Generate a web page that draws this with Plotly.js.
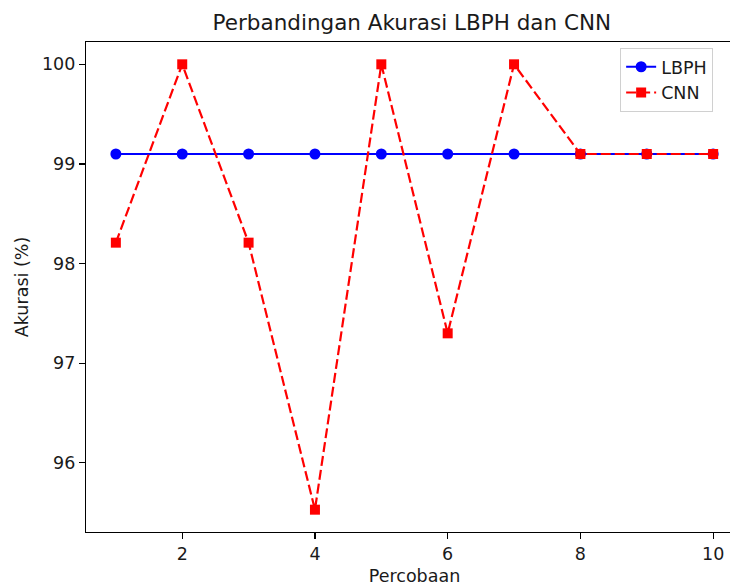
<!DOCTYPE html>
<html>
<head>
<meta charset="utf-8">
<script src="https://cdn.plot.ly/plotly-3.0.1.min.js"></script>
<style>html,body{margin:0;padding:0;overflow:hidden;background:#fff;}</style>
</head>
<body>
<div id="chart" style="width:745px;height:588px;"></div>
<script>
const percobaan = [1, 2, 3, 4, 5, 6, 7, 8, 9, 10];
const lbph = [99.1, 99.1, 99.1, 99.1, 99.1, 99.1, 99.1, 99.1, 99.1, 99.1];
const cnn = [98.21, 100, 98.21, 95.53, 100, 97.3, 100, 99.1, 99.1, 99.1];
const xTicks = [2, 4, 6, 8, 10];
const yTicks = [96, 97, 98, 99, 100];

const font = {family: 'DejaVu Sans, sans-serif', size: 17.5, color: '#1a1a1a'};
const traces = [
  {x: percobaan, y: lbph, name: 'LBPH', type: 'scatter', mode: 'lines+markers', legendgroup: 'a',
   line: {color: '#0000ff', width: 2.2}, marker: {color: '#0000ff', size: 11, symbol: 'circle'}},
  {x: percobaan, y: cnn, name: 'CNN', type: 'scatter', mode: 'lines+markers', legendgroup: 'b',
   line: {color: '#ff0000', width: 2.2, dash: '10px,4px'}, marker: {color: '#ff0000', size: 10, symbol: 'square'}}
];
const layout = {
  width: 745, height: 588,
  margin: {l: 86, r: 2, t: 42, b: 56},
  paper_bgcolor: '#fff', plot_bgcolor: '#fff',
  font: font,
  title: {text: 'Perbandingan Akurasi LBPH dan CNN', font: {family: 'DejaVu Sans, sans-serif', size: 21.5, color: '#1a1a1a'},
          xref: 'paper', x: 0.496, xanchor: 'center', y: 0.962, yanchor: 'middle'},
  xaxis: {range: [0.55, 10.45], tickvals: xTicks, ticktext: xTicks.map(String),
          showgrid: false, zeroline: false, showline: true, linecolor: '#000', linewidth: 1.2, mirror: true,
          ticks: 'outside', ticklen: 6, tickwidth: 1.2, tickcolor: '#000', tickfont: font,
          title: {text: 'Percobaan', font: font, standoff: 6}},
  yaxis: {range: [95.306, 100.224], tickvals: yTicks, ticktext: yTicks.map(String),
          showgrid: false, zeroline: false, showline: true, linecolor: '#000', linewidth: 1.2, mirror: true,
          ticks: 'outside', ticklen: 6, tickwidth: 1.2, tickcolor: '#000', tickfont: font,
          title: {text: 'Akurasi (%)', font: font, standoff: 8}},
  legend: {x: 0.813, xanchor: 'left', y: 0.988, yanchor: 'top', bgcolor: 'rgba(255,255,255,0.8)',
           bordercolor: '#d0d0d0', borderwidth: 1, font: font, tracegroupgap: 0},
  showlegend: true
};
Plotly.newPlot('chart', traces, layout, {displayModeBar: false, staticPlot: true});
</script>
</body>
</html>
